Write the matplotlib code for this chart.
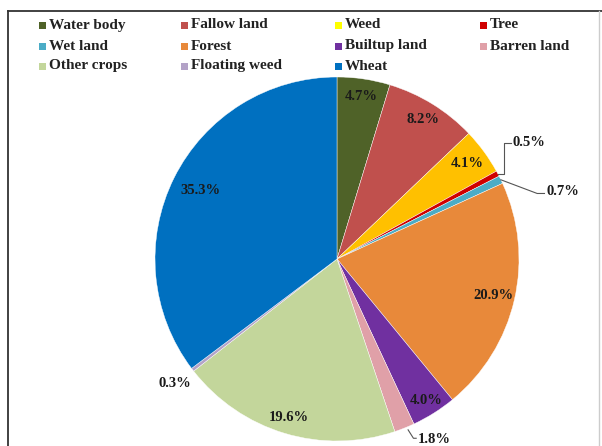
import numpy as np
import matplotlib.pyplot as plt
from matplotlib.lines import Line2D
from matplotlib.patches import Rectangle

plt.rcParams['font.family'] = ['Liberation Serif', 'DejaVu Serif']

categories = ['Water body', 'Fallow land', 'Weed', 'Tree', 'Wet land', 'Forest',
              'Builtup land', 'Barren land', 'Other crops', 'Floating weed', 'Wheat']
values = [4.7, 8.2, 4.1, 0.5, 0.7, 20.9, 4.0, 1.8, 19.6, 0.3, 35.3]
colors = ['#4F6228', '#C0504D', '#FFC000', '#D00000', '#4BACC6', '#E8893A',
          '#7030A0', '#E0A0A8', '#C3D69B', '#B3A2C7', '#0070C0']
legend_colors = ['#4F6228', '#C0504D', '#FFFF00', '#D00000', '#4BACC6', '#E8893A',
                 '#7030A0', '#E0A0A8', '#C3D69B', '#B3A2C7', '#0070C0']

W, H = 602, 446
fig = plt.figure(figsize=(W / 100, H / 100), dpi=100)

# outer frame: dark top/left, faint right
fig.add_artist(Line2D([8 / W, 8 / W], [0, 1 - 11 / H], color='#333333', lw=1.3, transform=fig.transFigure))
fig.add_artist(Line2D([8 / W, 1], [1 - 11 / H, 1 - 11 / H], color='#333333', lw=1.3, transform=fig.transFigure))
fig.add_artist(Line2D([599 / W, 599 / W], [0, 1 - 11 / H], color='#cccccc', lw=1.0, transform=fig.transFigure))

ax = fig.add_axes([155 / W, 5 / H, 364 / W, 364 / H])
wedges, _ = ax.pie(values, colors=colors, startangle=90, counterclock=False,
                   radius=1.0, wedgeprops=dict(linewidth=0.3, edgecolor='white'))
ax.set_xlim(-1, 1)
ax.set_ylim(-1, 1)
ax.set_aspect('equal')
ax.axis('off')

lab = dict(fontsize=10.5, fontweight='bold', color='#1a1a1a')

# label radius per slice (None = outside label handled below)
label_r = [0.90, 0.90, 0.89, None, None, 0.88, 0.92, None, 0.91, None, 0.84]
for w, v, r in zip(wedges, values, label_r):
    ang = np.radians((w.theta1 + w.theta2) / 2)
    if r is not None:
        ax.text(r * np.cos(ang), r * np.sin(ang), f'{v}%', ha='center', va='center', **lab)

def edge(i):
    a = np.radians((wedges[i].theta1 + wedges[i].theta2) / 2)
    return np.cos(a), np.sin(a)

lc = dict(color='#555555', lw=0.8, clip_on=False)
# Tree 0.5%
x0, y0 = edge(3)
ax.plot([x0, 0.92, 0.92, 0.955], [y0, y0, 0.64, 0.64], **lc)
ax.text(0.965, 0.64, f'{values[3]}%', ha='left', va='center', **lab)
# Wet land 0.7%
x0, y0 = edge(4)
ax.plot([x0, 1.1, 1.14], [y0, 0.36, 0.36], **lc)
ax.text(1.15, 0.37, f'{values[4]}%', ha='left', va='center', **lab)
# Barren land 1.8%
x0, y0 = edge(7)
ax.plot([x0 + 0.02, 0.42, 0.435], [y0 - 0.01, -0.985, -0.985], **lc)
ax.text(0.445, -0.99, f'{values[7]}%', ha='left', va='center', **lab)
# Floating weed 0.3%
x0, y0 = edge(9)
ax.text(1.12 * x0, 1.12 * y0, f'{values[9]}%', ha='center', va='center', **lab)

# legend
col_x = [39, 181, 335, 480]
row_y = [25, 46, 66]
for i, (name, c) in enumerate(zip(categories, legend_colors)):
    x = col_x[i % 4] / W
    y = 1 - row_y[i // 4] / H
    fig.add_artist(Rectangle((x, y - 4 / H), 7 / W, 7 / H, transform=fig.transFigure,
                             facecolor=c, edgecolor='none'))
    fig.text(x + 10 / W, y, name, ha='left', va='center', fontsize=11, fontweight='bold',
             color='#222222')

fig.savefig('out.png', dpi=100)
